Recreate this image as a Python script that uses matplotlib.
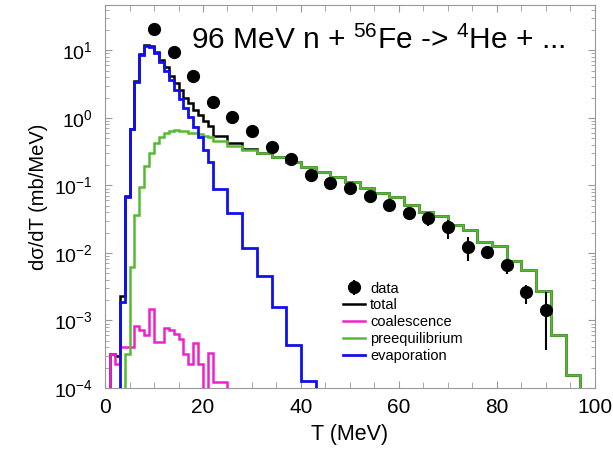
import numpy as np
import matplotlib.pyplot as plt
from matplotlib.ticker import MultipleLocator, LogLocator, NullFormatter

plt.rcParams['font.family'] = ['Liberation Sans', 'DejaVu Sans']
plt.rcParams['mathtext.fontset'] = 'custom'
plt.rcParams['mathtext.rm'] = 'Liberation Sans'
plt.rcParams['mathtext.it'] = 'Liberation Sans:italic'
plt.rcParams['mathtext.bf'] = 'Liberation Sans:bold'

# histogram bin edges (1 MeV below 22 MeV, 3 MeV above)
edges = list(range(0, 22)) + list(range(22, 101, 3))

# evaporation
evap = [0, 0, 0, 1.9e-3, 0.068, 0.68, 3.45, 8.6, 11.7, 11.2, 9.2, 6.8, 5.0, 3.6,
        2.6, 1.9, 1.39, 1.04, 0.74, 0.53, 0.34, 0.225,
        0.09, 0.039, 0.0117, 0.0045, 0.0016, 4.3e-4, 1.25e-4,
        0, 0, 0, 0, 0, 0, 0, 0, 0, 0, 0, 0, 0, 0, 0, 0, 0, 0, 0]
# preequilibrium
preeq = [0, 0, 0, 0, 3.2e-4, 6.2e-3, 0.036, 0.094, 0.196, 0.30, 0.42, 0.53, 0.59,
         0.63, 0.66, 0.65, 0.63, 0.605, 0.59, 0.574, 0.547, 0.52,
         0.45, 0.39, 0.34, 0.30, 0.26, 0.225, 0.19, 0.16, 0.135, 0.114, 0.091,
         0.077, 0.067, 0.051, 0.041, 0.035, 0.026, 0.022, 0.0147, 0.0128,
         0.0076, 0.0055, 0.0027, 6.1e-4, 1.56e-4, 0]
# coalescence
coal = [0, 3.2e-4, 2.3e-4, 4.0e-4, 4.0e-4, 4.0e-4, 8.3e-4, 7.3e-4, 6.1e-4, 1.48e-3,
        4.85e-4, 4.85e-4, 7.8e-4, 7.2e-4, 6.4e-4, 5.4e-4, 3.2e-4, 2.3e-4, 4.6e-4,
        2.3e-4, 0, 3.3e-4,
        1.24e-4, 0, 0, 0, 0, 0, 0, 0, 0, 0, 0, 0, 0, 0, 0, 0, 0, 0, 0, 0, 0, 0, 0, 0, 0, 0]
# total
total = [0, 3.2e-4, 3.0e-4, 2.3e-3, 0.069, 0.69, 3.5, 8.7, 11.9, 11.5, 9.6, 7.3, 5.6,
         4.2, 3.3, 2.55, 2.0, 1.65, 1.33, 1.1, 0.89, 0.75,
         0.54, 0.43, 0.35, 0.30, 0.26, 0.225, 0.19, 0.16, 0.135, 0.114, 0.091,
         0.077, 0.067, 0.051, 0.041, 0.035, 0.026, 0.022, 0.0147, 0.0128,
         0.0076, 0.0055, 0.0027, 6.1e-4, 1.56e-4, 0]

# measured data
dataT = [10, 14, 18, 22, 26, 30, 34, 38, 42, 46, 50, 54, 58, 62, 66, 70, 74, 78, 82, 86, 90]
dataY = [20.8, 9.4, 4.2, 1.74, 1.04, 0.65, 0.376, 0.244, 0.143, 0.108, 0.091, 0.070,
         0.051, 0.0396, 0.0327, 0.024, 0.0124, 0.0105, 0.0066, 0.0026, 0.00143]
dataLo = [19, 8.6, 3.8, 1.6, 0.95, 0.6, 0.34, 0.22, 0.13, 0.098, 0.082, 0.062,
          0.045, 0.033, 0.0252, 0.0162, 0.0075, 0.0085, 0.0049, 0.00173, 0.000365]
dataHi = [22.5, 10.2, 4.6, 1.9, 1.13, 0.7, 0.41, 0.27, 0.155, 0.118, 0.1, 0.078,
          0.057, 0.048, 0.0395, 0.031, 0.0175, 0.0125, 0.0079, 0.0034, 0.0026]

fig = plt.figure(figsize=(6.13, 4.5), dpi=100)
ax = fig.add_axes([0.1713, 0.1378, 0.7993, 0.8511])

ax.stairs(total, edges, color='black', lw=1.8, label='total', zorder=2)
ax.stairs(coal, edges, color='#ee22cc', lw=1.8, label='coalescence', zorder=3)
ax.stairs(preeq, edges, color='#55bb33', lw=1.8, label='preequilibrium', zorder=4)
ax.stairs(evap, edges, color='#1010ee', lw=2.0, label='evaporation', zorder=5)

yerr = [np.array(dataY) - np.array(dataLo), np.array(dataHi) - np.array(dataY)]
ax.errorbar(dataT, dataY, yerr=yerr, fmt='o', color='black', ms=8.5, elinewidth=1.5,
            capsize=0, label='data', zorder=6)

ax.set_yscale('log')
ax.set_xlim(0, 100)
ax.set_ylim(1e-4, 47)

ax.xaxis.set_major_locator(MultipleLocator(20))
ax.xaxis.set_minor_locator(MultipleLocator(5))
ax.yaxis.set_major_locator(LogLocator(base=10, numticks=10))
ax.yaxis.set_minor_locator(LogLocator(base=10, subs=np.arange(2, 10), numticks=10))
ax.yaxis.set_minor_formatter(NullFormatter())
ax.tick_params(which='both', direction='in', top=True, right=True, color='#999999')
ax.tick_params(axis='x', which='major', labelsize=15, pad=7)
ax.tick_params(axis='y', which='major', labelsize=14, pad=9)
ax.tick_params(which='major', length=5)
ax.tick_params(which='minor', length=3)
ax.tick_params(axis='x', which='minor', length=4)
for s in ax.spines.values():
    s.set_color('#999999')

ax.set_xlabel('T (MeV)', fontsize=15.5, labelpad=5)
ax.set_ylabel('dσ/dT (mb/MeV)', fontsize=14.5, labelpad=4)

ax.text(0.1755, 0.907, r'96 MeV n + $^{56}$Fe -> $^{4}$He + ...', transform=ax.transAxes,
        fontsize=21.5, va='center', ha='left')

h, l = ax.get_legend_handles_labels()
order = [l.index(k) for k in ['data', 'total', 'coalescence', 'preequilibrium', 'evaporation']]
ax.legend([h[i] for i in order], [l[i] for i in order], loc='upper left',
          bbox_to_anchor=(0.486, 0.278), frameon=False, fontsize=10.5, borderpad=0,
          labelspacing=0.2, handlelength=1.5, handletextpad=0.35, numpoints=1,
          borderaxespad=0)

fig.savefig('out.png', dpi=100)
